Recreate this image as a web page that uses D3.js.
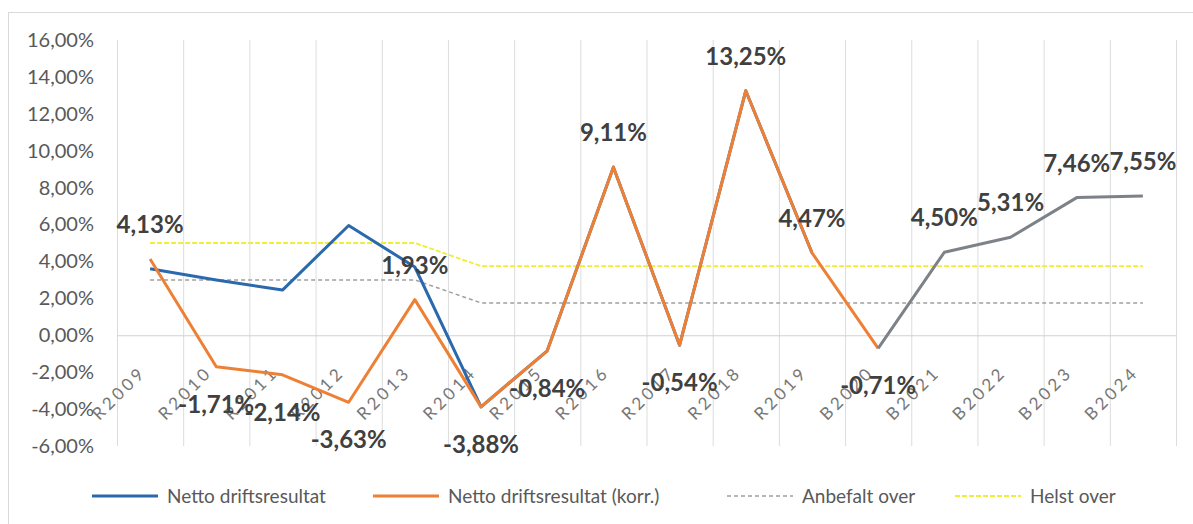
<!DOCTYPE html>
<html>
<head>
<meta charset="utf-8">
<script src="https://cdn.jsdelivr.net/npm/d3@7"></script>
<style>
  body { margin: 0; background: #fff; }
  text { font-family: Lato, "Open Sans", sans-serif; }
</style>
</head>
<body>
<script>
// kategorier (R = regnskap, B = budsjett)
var years = ["R2009","R2010","R2011","R2012","R2013","R2014","R2015","R2016",
             "R2017","R2018","R2019","B2020","B2021","B2022","B2023","B2024"];

var netto = [3.6, 3.0, 2.45, 5.95, 3.7, -3.88, -0.84, 9.11,
             -0.54, 13.25, 4.47, -0.71, 4.50, 5.31, 7.46, 7.55];

var nettoKorr = [4.13, -1.71, -2.14, -3.63, 1.93, -3.88, -0.84, 9.11,
                 -0.54, 13.25, 4.47, -0.71, null, null, null, null];

var anbefalt = [3, 3, 3, 3, 3, 1.75, 1.75, 1.75, 1.75, 1.75, 1.75, 1.75, 1.75, 1.75, 1.75, 1.75];
var helst    = [5, 5, 5, 5, 5, 3.75, 3.75, 3.75, 3.75, 3.75, 3.75, 3.75, 3.75, 3.75, 3.75, 3.75];

var yTicks = [-6, -4, -2, 0, 2, 4, 6, 8, 10, 12, 14, 16];

var legendNames = ["Netto driftsresultat", "Netto driftsresultat (korr.)", "Anbefalt over", "Helst over"];

var W = 1193, H = 524;
var plotLeft = 117, plotRight = 1176, plotTop = 40, plotBottom = 446;

var svg = d3.select("body").append("svg")
    .attr("width", W)
    .attr("height", H);

svg.append("rect")
    .attr("x", 8.5).attr("y", 12.5)
    .attr("width", 1200).attr("height", 540)
    .attr("fill", "#fff")
    .attr("stroke", "#d9d9d9");

var x = d3.scaleBand().domain(years).range([plotLeft, plotRight]).padding(0);
var y = d3.scaleLinear().domain([-6, 16]).range([plotBottom, plotTop]);
var cx = function (d, i) { return x(years[i]) + x.bandwidth() / 2; };

var locale = d3.formatLocale({ decimal: ",", thousands: " ", grouping: [3], currency: ["", " kr"], minus: "-" });
var fmt = locale.format(".2f");

// vertikale rutenett
var edges = years.map(function (d) { return x(d); }).concat([plotRight]);
svg.append("g").selectAll("line")
    .data(edges)
    .enter().append("line")
    .attr("x1", function (d) { return d + 0.5; })
    .attr("x2", function (d) { return d + 0.5; })
    .attr("y1", plotTop).attr("y2", plotBottom)
    .attr("stroke", "#dcdcdc").attr("stroke-width", 1);

// null-linje
svg.append("line")
    .attr("x1", plotLeft).attr("x2", plotRight)
    .attr("y1", y(0) + 0.5).attr("y2", y(0) + 0.5)
    .attr("stroke", "#d0d0d0").attr("stroke-width", 1.2);

// y-akse
var yAxis = d3.axisLeft(y).tickValues(yTicks).tickSize(0)
    .tickFormat(function (d) { return fmt(d) + "%"; });
var gy = svg.append("g").attr("transform", "translate(" + 94 + ",0)").call(yAxis);
gy.select(".domain").remove();
gy.selectAll("text")
    .attr("fill", "#595959")
    .style("font-size", "20px")
    .attr("x", 0);

// x-akse etiketter
svg.append("g").selectAll("text")
    .data(years)
    .enter().append("text")
    .attr("transform", function (d, i) {
        return "translate(" + (cx(d, i) - 3) + "," + (y(0) + 38) + ") rotate(-45)";
    })
    .attr("text-anchor", "end")
    .attr("fill", "#777")
    .style("font-size", "17px")
    .style("letter-spacing", "3.5px")
    .text(function (d) { return d; });

var line = d3.line()
    .defined(function (d) { return d != null; })
    .x(cx)
    .y(function (d) { return y(d); });

// referanselinjer
svg.append("path").datum(anbefalt)
    .attr("d", line).attr("fill", "none")
    .attr("stroke", "#a0a0a0").attr("stroke-width", 1.5)
    .attr("stroke-dasharray", "4,3");

svg.append("path").datum(helst)
    .attr("d", line).attr("fill", "none")
    .attr("stroke", "#f0ec3a").attr("stroke-width", 1.8)
    .attr("stroke-dasharray", "5,2");

// netto driftsresultat (regnskap i blått)
var nettoR = netto.map(function (d, i) { return years[i][0] === "R" ? d : null; });
svg.append("path").datum(nettoR)
    .attr("d", line).attr("fill", "none")
    .attr("stroke", "#2a69ad").attr("stroke-width", 3)
    .attr("stroke-linejoin", "round");

// korrigert
svg.append("path").datum(nettoKorr)
    .attr("d", line).attr("fill", "none")
    .attr("stroke", "#ee8035").attr("stroke-width", 3)
    .attr("stroke-linejoin", "round");

// budsjett-delen (grå)
var nettoB = netto.map(function (d, i) { return years[i][0] === "B" ? d : null; });
svg.append("path").datum(nettoB)
    .attr("d", line).attr("fill", "none")
    .attr("stroke", "#7d8288").attr("stroke-width", 3)
    .attr("stroke-linejoin", "round");

// dataetiketter
var labels = nettoKorr.map(function (d, i) { return d != null ? d : netto[i]; });
svg.append("g").selectAll("text")
    .data(labels)
    .enter().append("text")
    .attr("x", cx)
    .attr("y", function (d) { return d >= 0 ? y(d) - 26 : y(d) + 46; })
    .attr("text-anchor", "middle")
    .attr("fill", "#404040")
    .style("font-size", "24px")
    .style("font-weight", "bold")
    .text(function (d) { return fmt(d) + "%"; });

// tegnforklaring
var legendX = [92, 373, 727, 955];
var legendStyle = [
    { c: "#2a69ad", w: 3, dash: null },
    { c: "#ee8035", w: 3, dash: null },
    { c: "#a0a0a0", w: 1.5, dash: "4,3" },
    { c: "#f0ec3a", w: 1.8, dash: "5,2" }
];
var lg = svg.append("g").selectAll("g")
    .data(legendNames)
    .enter().append("g")
    .attr("transform", function (d, i) { return "translate(" + legendX[i] + ",496)"; });
lg.append("line")
    .attr("x1", 0).attr("x2", 66)
    .attr("stroke", function (d, i) { return legendStyle[i].c; })
    .attr("stroke-width", function (d, i) { return legendStyle[i].w; })
    .attr("stroke-dasharray", function (d, i) { return legendStyle[i].dash; });
lg.append("text")
    .attr("x", 75).attr("dy", "0.35em")
    .attr("fill", "#595959")
    .style("font-size", "19px")
    .text(function (d) { return d; });
</script>
</body>
</html>
